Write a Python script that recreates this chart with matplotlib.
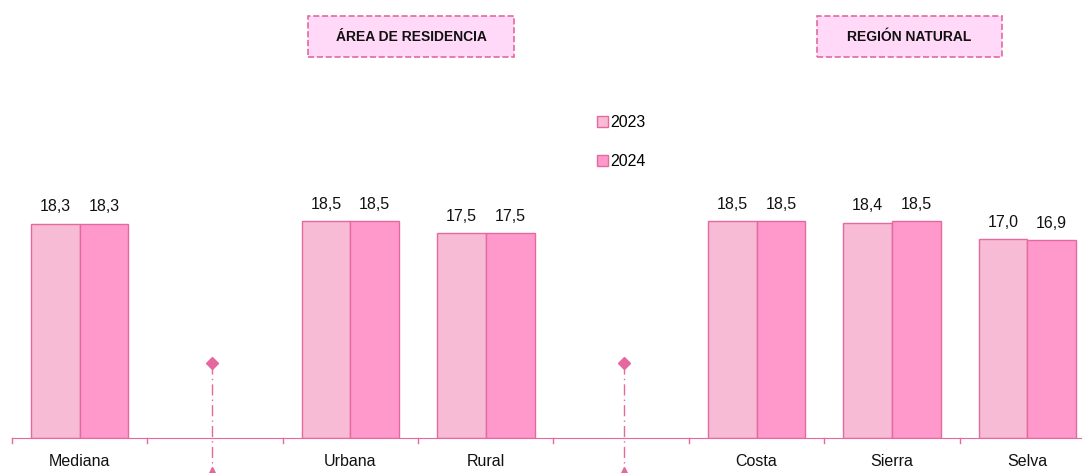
import matplotlib.pyplot as plt
from matplotlib.patches import Rectangle
import numpy as np

plt.rcParams['font.family'] = ['Liberation Sans', 'DejaVu Sans']

# Data
categories = ['Mediana', '', 'Urbana', 'Rural', '', 'Costa', 'Sierra', 'Selva']
v2023 = [18.3, np.nan, 18.5, 17.5, np.nan, 18.5, 18.4, 17.0]
v2024 = [18.3, np.nan, 18.5, 17.5, np.nan, 18.5, 18.5, 16.9]
years = ['2023', '2024']
dividers = [0.974, 4.022]
sections = ['ÁREA DE RESIDENCIA', 'REGIÓN NATURAL']

c2023 = '#F8BBD6'
c2024 = '#FF99CC'
edge = '#E5699E'

W, H = 1082, 473
fig = plt.figure(figsize=(W / 100, H / 100), dpi=100)
# axes extends past the right edge, like the original
ax = fig.add_axes([12 / W, (H - 438) / H, 1083 / W, 438 / H])

x = np.arange(len(categories))
bw = 0.36
b1 = ax.bar(x - bw / 2, v2023, bw, color=c2023, edgecolor=edge, linewidth=1, label=years[0])
b2 = ax.bar(x + bw / 2, v2024, bw, color=c2024, edgecolor=edge, linewidth=1, label=years[1])

for bars, vals in ((b1, v2023), (b2, v2024)):
    for xi, v in zip(bars, vals):
        if np.isnan(v):
            continue
        ax.text(xi.get_x() + xi.get_width() / 2, v + 0.8, f'{v:.1f}'.replace('.', ','),
                ha='center', va='bottom', fontsize=11.5, color='#111111')

ax.set_xlim(-0.5, len(categories) - 0.5)
ax.set_ylim(0, 37.4)

# divider lines with diamond and triangle ends
for xd in dividers:
    ax.plot([xd, xd], [6.4, -2.9], color=edge, lw=1, ls=(0, (8, 3, 1, 3)), clip_on=False)
    ax.plot(xd, 6.4, marker='D', color=edge, ms=6, clip_on=False)
    ax.plot(xd, -2.9, marker='^', color=edge, ms=7, clip_on=False)

for s in ['top', 'right', 'left']:
    ax.spines[s].set_visible(False)
ax.spines['bottom'].set_color(edge)
ax.set_yticks([])
ax.set_xticks([])
for t in np.arange(-0.5, len(categories) + 0.5, 1):
    ax.plot([t, t], [0, -0.45], color=edge, lw=1, clip_on=False)
for xi, lab in zip(x, categories):
    ax.text(xi, -1.4, lab, ha='center', va='top', fontsize=11.5, color='#111111')

# section titles
for (x0, x1), lab in zip([(308, 514), (817, 1002)], sections):
    fig.patches.append(Rectangle((x0 / W, 1 - 57 / H), (x1 - x0) / W, 41 / H,
                                 transform=fig.transFigure, fc='#FFD9F7', ec=edge,
                                 ls='--', lw=1.2))
    fig.text((x0 + x1) / 2 / W, 1 - 37 / H, lab, ha='center', va='center',
             fontsize=10, fontweight='bold', color='#111111')

ax.legend(loc='upper left', bbox_to_anchor=(577 / 1083, 1 - 107 / 438), frameon=False,
          fontsize=11.5, handlelength=0.7, handleheight=0.7, handletextpad=0.15,
          labelspacing=1.5, borderpad=0)

fig.savefig('out.png', dpi=100)
